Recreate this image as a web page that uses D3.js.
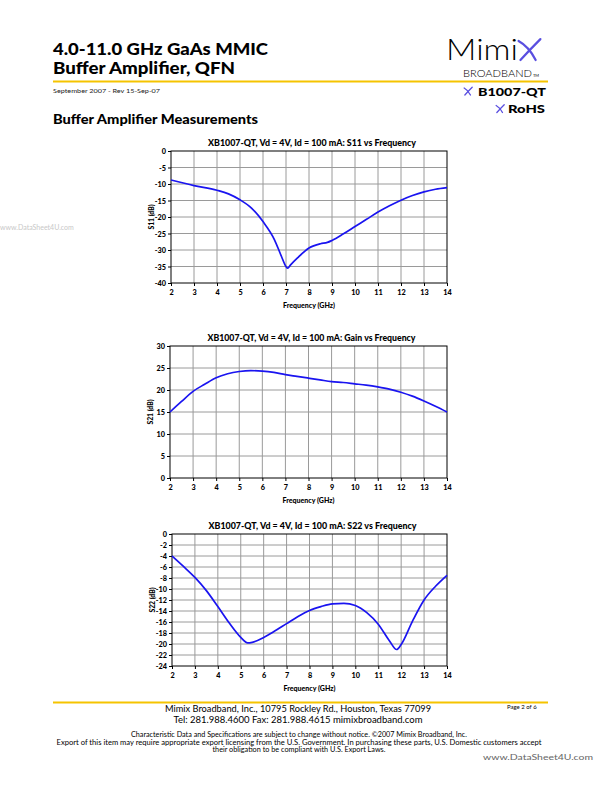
<!DOCTYPE html>
<html><head><meta charset="utf-8">
<script src="https://cdn.jsdelivr.net/npm/d3@7"></script>
<style>
html,body{margin:0;padding:0;background:#fff;}
svg{display:block;}
text{font-family:Lato,"Open Sans",sans-serif;}
</style></head>
<body>
<svg id="page" width="612" height="792"></svg>
<script>
// ---------------- DATA ----------------
const xTicks = [2,3,4,5,6,7,8,9,10,11,12,13,14];

const s11Freq  = [2,3,4,4.5,5,5.5,6,6.5,6.8,7.0,7.07,7.2,7.5,8,8.5,8.8,9,9.5,10,10.5,11,11.5,12,12.5,13,13.5,14];
const s11Values= [-8.8,-10.5,-11.9,-13.0,-14.8,-17.3,-21.4,-26.9,-31.9,-35.0,-35.5,-34.5,-32.4,-29.4,-28.1,-27.7,-27.1,-25.1,-22.9,-20.7,-18.5,-16.6,-14.9,-13.5,-12.4,-11.6,-11.1];
const s11Ticks = [0,-5,-10,-15,-20,-25,-30,-35,-40];

const gainFreq  = [2,2.5,3,3.5,4,4.5,5,5.5,6,6.5,7,7.5,8,8.5,9,9.5,10,10.5,11,11.5,12,12.5,13,13.5,14];
const gainValues= [15.0,17.4,19.7,21.3,22.8,23.7,24.2,24.4,24.3,24.0,23.5,23.1,22.7,22.3,21.9,21.7,21.4,21.1,20.7,20.2,19.5,18.6,17.5,16.3,15.0];
const gainTicks = [0,5,10,15,20,25,30];

const s22Freq  = [2,2.5,3,3.5,4,4.5,5,5.3,5.5,6,6.5,7,7.5,8,8.5,9,9.5,10,10.5,11,11.5,11.8,12,12.5,13,13.5,14];
const s22Values= [-4.0,-5.9,-7.9,-10.3,-13.2,-16.2,-18.8,-19.8,-19.7,-18.8,-17.6,-16.3,-15.0,-13.9,-13.2,-12.7,-12.6,-13.0,-14.3,-16.4,-19.5,-21.0,-20.1,-15.8,-12.0,-9.5,-7.5];
const s22Ticks = [0,-2,-4,-6,-8,-10,-12,-14,-16,-18,-20,-22,-24];

const chartTitles = [
  "XB1007-QT, Vd = 4V, Id = 100 mA: S11 vs Frequency",
  "XB1007-QT, Vd = 4V, Id = 100 mA: Gain vs Frequency",
  "XB1007-QT, Vd = 4V, Id = 100 mA: S22 vs Frequency"
];
const yLabels = ["S11 (dB)", "S21 (dB)", "S22 (dB)"];
const xLabel = "Frequency (GHz)";

// ---------------- PAGE ----------------
const svg = d3.select("#page");
const yellow = "#f5c400";
const lineBlue = "#1a14f0";
const logoBlue = "#5a4fe0";

// Header
svg.append("text").attr("x",53).attr("y",54.5).attr("font-size",16.2).attr("font-weight",900)
  .attr("textLength",215).attr("lengthAdjust","spacingAndGlyphs").text("4.0-11.0 GHz GaAs MMIC");
svg.append("text").attr("x",53).attr("y",74).attr("font-size",16.2).attr("font-weight",900)
  .attr("textLength",182).attr("lengthAdjust","spacingAndGlyphs").text("Buffer Amplifier, QFN");
svg.append("line").attr("x1",53).attr("x2",548).attr("y1",81.5).attr("y2",81.5)
  .attr("stroke",yellow).attr("stroke-width",2);
svg.append("text").attr("x",53).attr("y",93).attr("font-size",6.5).attr("fill","#222")
  .attr("textLength",107).attr("lengthAdjust","spacingAndGlyphs").text("September 2007 - Rev 15-Sep-07");
svg.append("text").attr("x",53).attr("y",123.5).attr("font-size",13).attr("font-weight",900)
  .attr("textLength",205).attr("lengthAdjust","spacingAndGlyphs").text("Buffer Amplifier Measurements");

// Logo
svg.append("text").attr("x",446).attr("y",60).attr("font-size",29).attr("font-weight",300)
  .attr("textLength",72).attr("lengthAdjust","spacingAndGlyphs").text("Mimi");
function xMark(cx, cy, s, w){
  const g = svg.append("g").attr("fill","none").attr("stroke",logoBlue).attr("stroke-width",w).attr("stroke-linecap","round");
  g.append("path").attr("d",`M${cx-s*0.55},${cy-s*0.5} Q${cx},${cy-s*0.2} ${cx+s*0.35},${cy+s*0.5}`);
  g.append("path").attr("d",`M${cx-s*0.45},${cy+s*0.5} Q${cx+s*0.05},${cy-s*0.05} ${cx+s*0.6},${cy-s*0.6}`);
}
xMark(529,50.5,19,2.2);
svg.append("text").attr("x",463).attr("y",77).attr("font-size",10.5).attr("font-weight",300)
  .attr("textLength",69).attr("lengthAdjust","spacingAndGlyphs").text("BROADBAND");
svg.append("text").attr("x",533).attr("y",77).attr("font-size",4).text("TM");
xMark(468,91.5,7,1.3);
svg.append("text").attr("x",478).attr("y",96).attr("font-size",12).attr("font-weight",900)
  .attr("textLength",68).attr("lengthAdjust","spacingAndGlyphs").text("B1007-QT");
xMark(500,109,7,1.3);
svg.append("text").attr("x",508).attr("y",113).attr("font-size",12).attr("font-weight",900)
  .attr("textLength",37).attr("lengthAdjust","spacingAndGlyphs").text("RoHS");

// Watermark
svg.append("text").attr("x",0).attr("y",230).attr("font-size",7).attr("fill","#c8c8c8")
  .attr("font-family","DejaVu Sans").text("www.DataSheet4U.com");

// ---------------- CHARTS ----------------
function drawChart(o){
  const g = svg.append("g");
  const x = d3.scaleLinear().domain([2,14]).range([o.left,o.right]);
  const y = d3.scaleLinear().domain(o.yDomain).range([o.bottom,o.top]);
  // grid
  g.append("g").selectAll("line").data(xTicks.slice(1,-1)).join("line")
    .attr("x1",d=>x(d)).attr("x2",d=>x(d)).attr("y1",o.top).attr("y2",o.bottom)
    .attr("stroke","#9a9a9a").attr("stroke-width",1);
  g.append("g").selectAll("line").data(o.yTicks.filter(t=>t!==o.yDomain[0]&&t!==o.yDomain[1])).join("line")
    .attr("x1",o.left).attr("x2",o.right).attr("y1",d=>y(d)).attr("y2",d=>y(d))
    .attr("stroke","#9a9a9a").attr("stroke-width",1);
  // axes
  const ax = g.append("g").attr("transform",`translate(0,${o.bottom})`)
    .call(d3.axisBottom(x).tickValues(xTicks).tickSize(3).tickSizeOuter(0).tickFormat(d3.format("d")));
  const ay = g.append("g").attr("transform",`translate(${o.left},0)`)
    .call(d3.axisLeft(y).tickValues(o.yTicks).tickSize(3).tickSizeOuter(0).tickFormat(d=>d===0?"0":d3.format("d")(d).replace("−","-")));
  [ax,ay].forEach(a=>{
    a.select(".domain").remove();
    a.selectAll("line").attr("stroke","#000");
    a.selectAll("text").attr("font-family","Lato,sans-serif").attr("font-size",7.3).attr("font-weight",900).attr("fill","#000");
  });
  ax.selectAll("text").attr("dy",null).attr("y",11.5);
  ay.selectAll("text").attr("x",-5).attr("dy","0.35em");
  // border
  g.append("rect").attr("x",o.left).attr("y",o.top).attr("width",o.right-o.left).attr("height",o.bottom-o.top)
    .attr("fill","none").attr("stroke","#000").attr("stroke-width",1);
  // line
  const data = o.freq.map((f,i)=>[f,o.values[i]]);
  g.append("path").datum(data)
    .attr("d",d3.line().x(d=>x(d[0])).y(d=>y(d[1])).curve(d3.curveMonotoneX))
    .attr("fill","none").attr("stroke",lineBlue).attr("stroke-width",1.7);
  // title and labels
  g.append("text").attr("x",(o.left+o.right)/2+3).attr("y",o.top-5.5).attr("text-anchor","middle")
    .attr("font-size",8.5).attr("font-weight",900).attr("textLength",208).attr("lengthAdjust","spacingAndGlyphs").text(o.title);
  g.append("text").attr("x",(o.left+o.right)/2).attr("y",o.bottom+25).attr("text-anchor","middle")
    .attr("font-size",6.8).attr("font-weight",900).attr("textLength",52).attr("lengthAdjust","spacingAndGlyphs").text(xLabel);
  g.append("text").attr("transform",`translate(${o.left-17},${(o.top+o.bottom)/2}) rotate(-90)`)
    .attr("text-anchor","middle").attr("font-size",6.8).attr("font-weight",900).text(o.yLabel);
}

drawChart({left:171,right:447,top:151,bottom:283,yDomain:[-40,0],yTicks:s11Ticks,
  freq:s11Freq,values:s11Values,title:chartTitles[0],yLabel:yLabels[0]});
drawChart({left:170,right:447,top:346,bottom:478,yDomain:[0,30],yTicks:gainTicks,
  freq:gainFreq,values:gainValues,title:chartTitles[1],yLabel:yLabels[1]});
drawChart({left:172,right:447,top:534,bottom:666,yDomain:[-24,0],yTicks:s22Ticks,
  freq:s22Freq,values:s22Values,title:chartTitles[2],yLabel:yLabels[2]});

// ---------------- FOOTER ----------------
svg.append("line").attr("x1",53).attr("x2",548).attr("y1",702.5).attr("y2",702.5)
  .attr("stroke",yellow).attr("stroke-width",2);
const foot = [
  {t:"Mimix Broadband, Inc., 10795 Rockley Rd., Houston, Texas 77099", y:712, s:9, w:266},
  {t:"Tel: 281.988.4600  Fax: 281.988.4615  mimixbroadband.com", y:723, s:9, w:249}
];
foot.forEach(f=>svg.append("text").attr("x",298).attr("y",f.y).attr("text-anchor","middle")
  .attr("font-size",f.s).attr("textLength",f.w).attr("lengthAdjust","spacingAndGlyphs").text(f.t));
svg.append("text").attr("x",507).attr("y",709).attr("font-size",6).text("Page 2 of 6");
const small = [
  {t:"Characteristic Data and Specifications are subject to change without notice. ©2007 Mimix Broadband, Inc.", y:737, w:336},
  {t:"Export of this item may require appropriate export licensing from the U.S. Government. In purchasing these parts, U.S. Domestic customers accept", y:744.5, w:485},
  {t:"their obligation to be compliant with U.S. Export Laws.", y:751.5, w:173}
];
small.forEach(f=>svg.append("text").attr("x",299).attr("y",f.y).attr("text-anchor","middle")
  .attr("font-size",7).attr("textLength",f.w).attr("lengthAdjust","spacingAndGlyphs").text(f.t));
svg.append("text").attr("x",483).attr("y",760).attr("font-size",7.5).attr("fill","#666")
  .attr("font-family","DejaVu Sans").attr("textLength",110).attr("lengthAdjust","spacingAndGlyphs").text("www.DataSheet4U.com");
</script>
</body></html>
